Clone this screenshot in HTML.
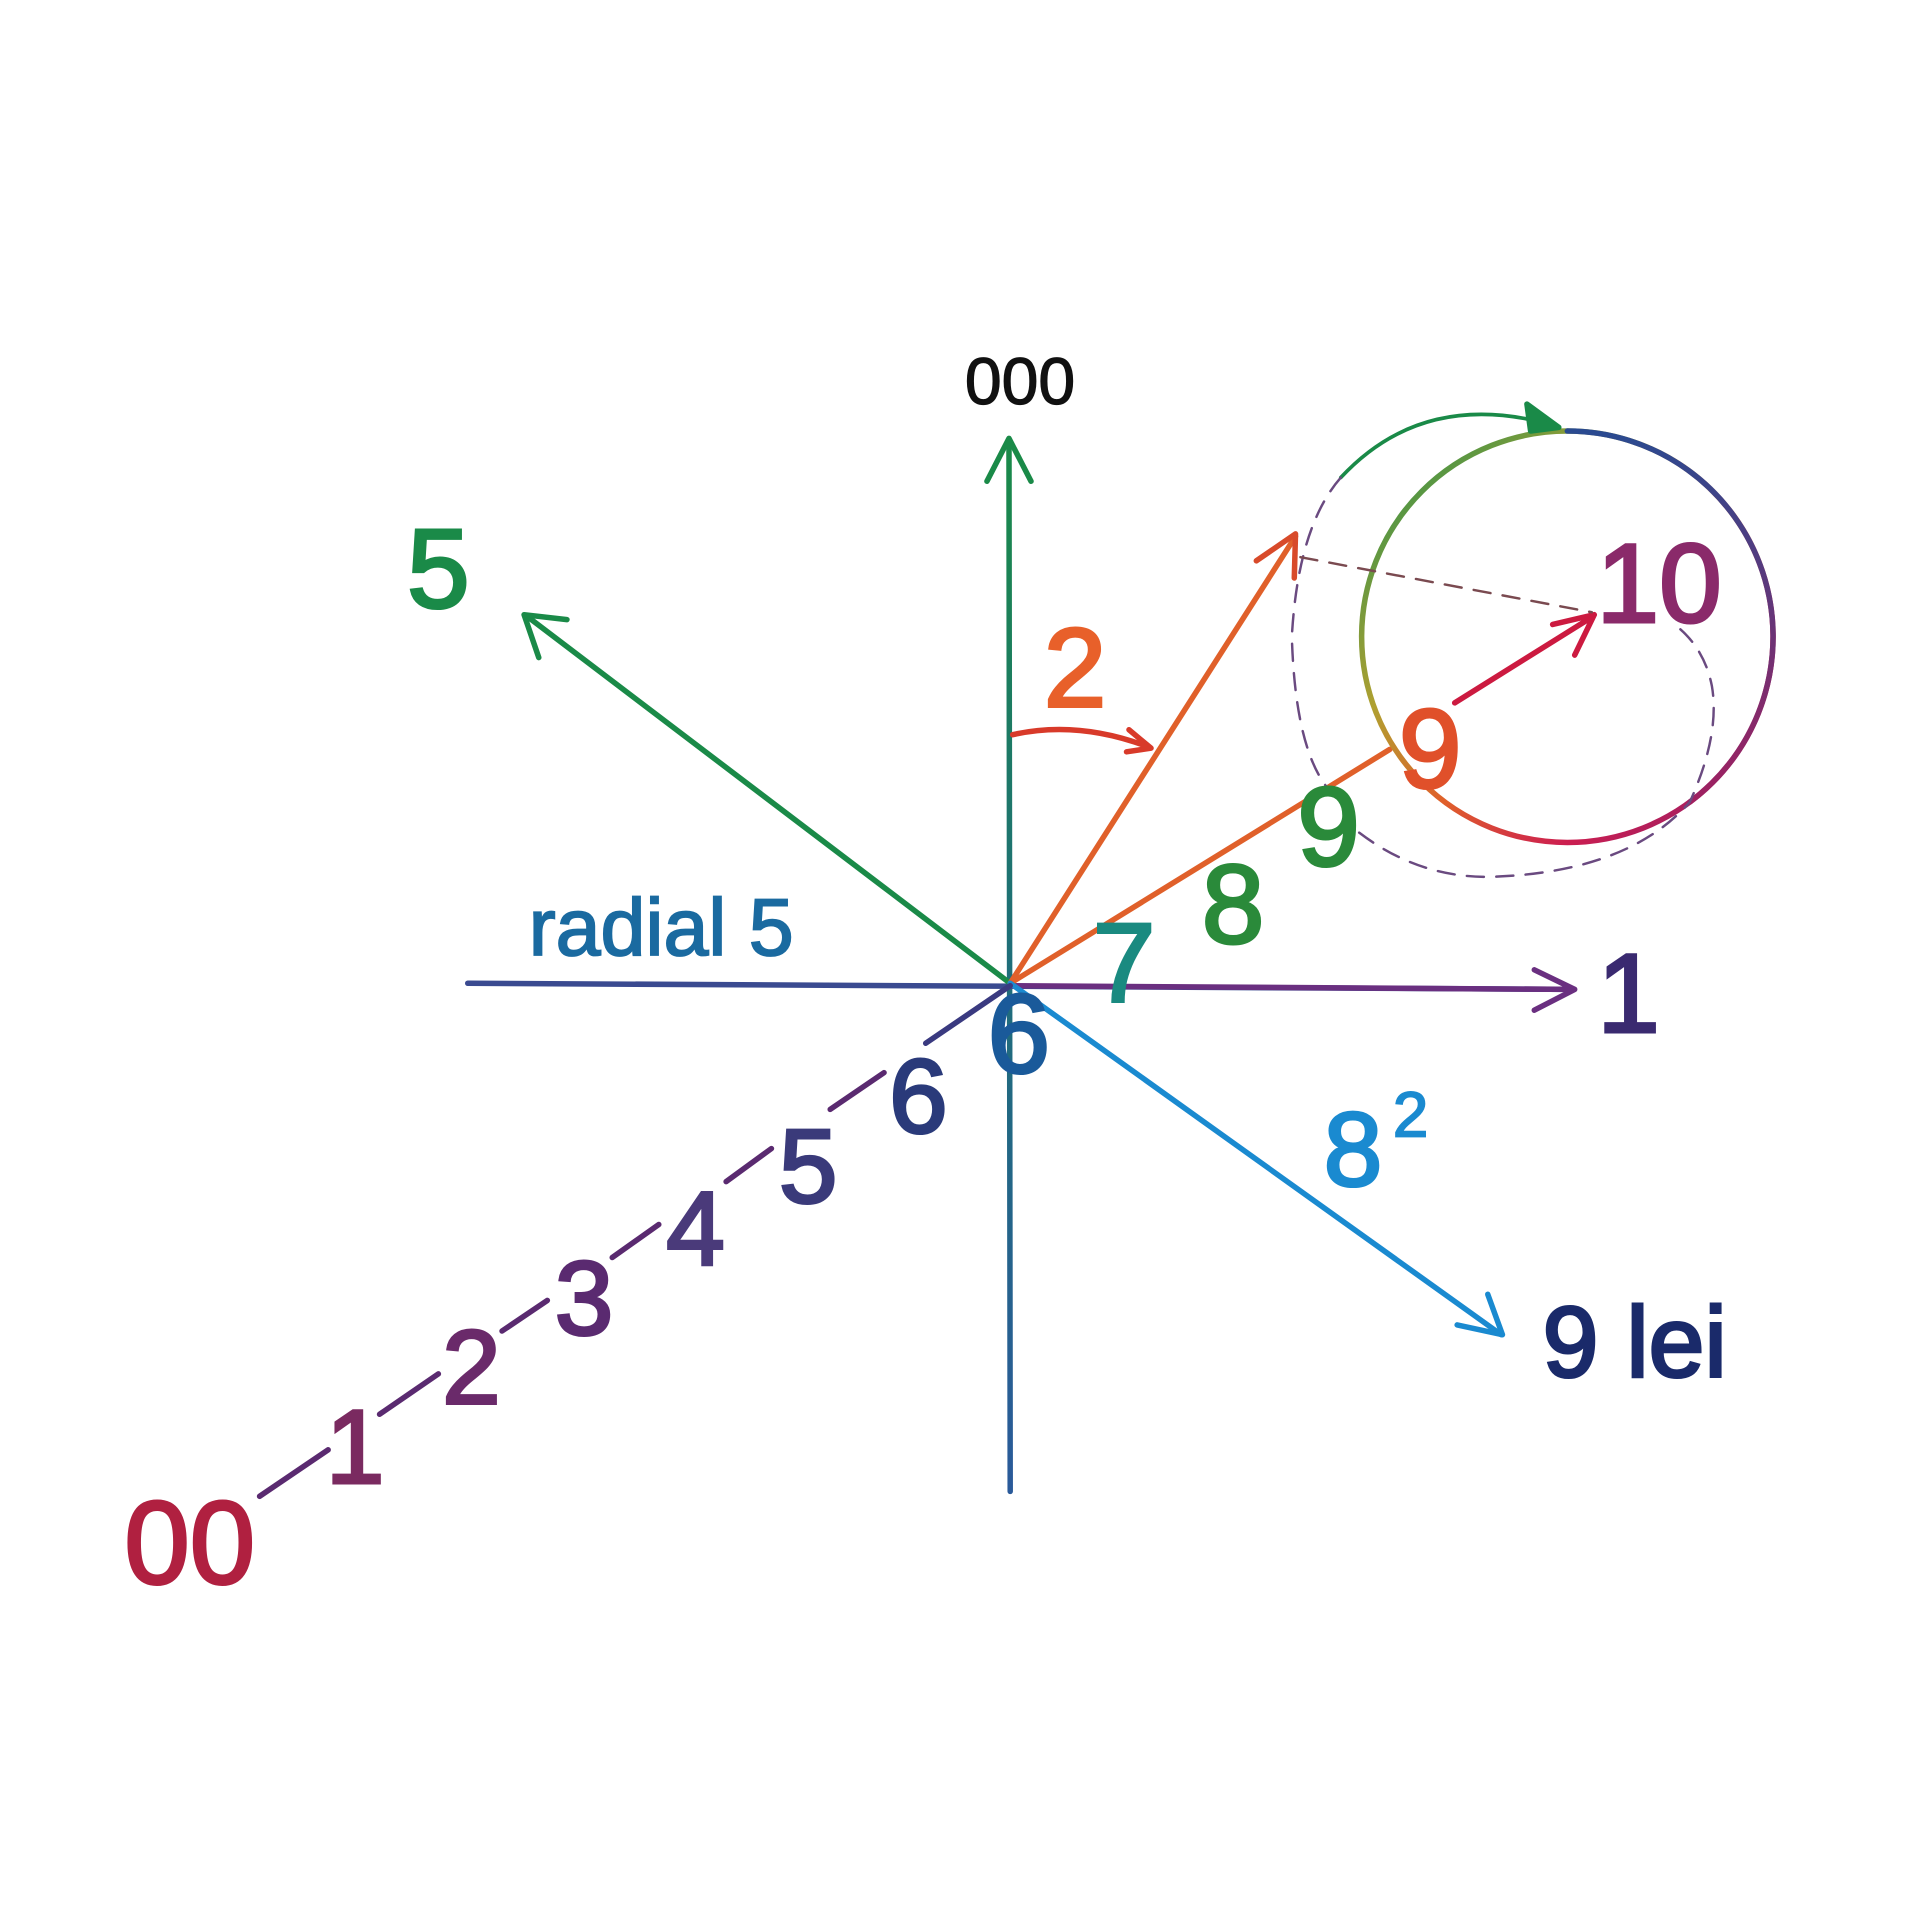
<!DOCTYPE html>
<html><head><meta charset="utf-8"><style>
html,body{margin:0;padding:0;background:#fff;}
svg{display:block;}
text{font-family:"Liberation Sans","DejaVu Sans",sans-serif;}
</style></head><body>
<svg width="1920" height="1920" viewBox="0 0 1568 1568" xmlns="http://www.w3.org/2000/svg">
<defs>
<linearGradient id="vax" x1="0" y1="1" x2="0" y2="0"><stop offset="0" stop-color="#2a5a9a"/><stop offset="0.5" stop-color="#1f6e7a"/><stop offset="1" stop-color="#1a8a48"/></linearGradient>
<linearGradient id="circ" x1="0" y1="0" x2="1" y2="1"><stop offset="0" stop-color="#1a9050"/><stop offset="0.35" stop-color="#b0a030"/><stop offset="0.55" stop-color="#e0602a"/><stop offset="0.75" stop-color="#cc1e50"/><stop offset="1" stop-color="#802070"/></linearGradient>
<linearGradient id="circR" x1="0" y1="0" x2="0" y2="1"><stop offset="0" stop-color="#2a4a90"/><stop offset="1" stop-color="#a02060"/></linearGradient>
</defs>
<g fill="none" stroke-linecap="round" stroke-linejoin="round" stroke-width="4.5">
<line x1="825" y1="1218" x2="824" y2="360" stroke="url(#vax)"/>
<polyline points="806,393 824,358 842,393" stroke="#1a8a48"/>
<line x1="382" y1="803" x2="1285" y2="808" stroke="#3a4a90"/>
<line x1="825" y1="805" x2="1285" y2="808" stroke="#6a2f80"/>
<polyline points="1253,792 1286,808 1253,825" stroke="#6a2f80"/>
<line x1="825" y1="803" x2="430" y2="503" stroke="#1a8a48"/>
<polyline points="440,537 428,502 463,506" stroke="#1a8a48"/>
<line x1="825" y1="803" x2="1058" y2="438" stroke="#e0602a"/>
<polyline points="1026,458 1058,436 1057,472" stroke="#d84a2a"/>
<line x1="825" y1="803" x2="1135" y2="612" stroke="#e0602a"/>
<line x1="1188" y1="574" x2="1300" y2="504" stroke="#cc1a40"/>
<polyline points="1268,510 1302,502 1286,535" stroke="#cc1a40"/>
<line x1="825" y1="803" x2="1226" y2="1090" stroke="#1a8ad0"/>
<polyline points="1190,1082 1227,1090 1215,1057" stroke="#1a8ad0"/>
<path d="M827,600 Q880,588 938,610" stroke="#d83a2a"/>
<polyline points="922,596 940,611 920,614" stroke="#d83a2a"/>
<g stroke="#5a2a70">
<line x1="212" y1="1222" x2="268" y2="1184"/>
<line x1="310" y1="1155" x2="358" y2="1122"/>
<line x1="410" y1="1087" x2="447" y2="1062"/>
<line x1="500" y1="1027" x2="538" y2="1000"/>
<line x1="593" y1="965" x2="630" y2="938"/>
<line x1="678" y1="906" x2="722" y2="876"/>
<line x1="756" y1="852" x2="825" y2="805" stroke="#3a3a80"/>
</g>
<circle cx="1280" cy="520" r="168" stroke="url(#circ)" stroke-width="4.5"/>
<path d="M1280,352 A168,168 0 0 1 1380,655" stroke="url(#circR)" stroke-width="4.5"/>
<path d="M1095,390 Q1160,320 1260,345" stroke="#1a8a48" stroke-width="3"/>
<polygon points="1247,330 1273,349 1250,352" fill="#1a8a48" stroke="#1a8a48"/>
<path d="M1095,390 Q1060,430 1055,520 Q1058,620 1090,650 M1110,680 Q1160,718 1220,716 Q1330,712 1380,655 Q1405,600 1398,560 Q1392,530 1370,512" stroke="#6a4a80" stroke-width="2" stroke-dasharray="14,10"/>
<line x1="1062" y1="455" x2="1300" y2="500" stroke="#7a4a50" stroke-width="2" stroke-dasharray="14,10"/>
</g>
<g stroke-width="2.5">
<text x="833" y="330" font-size="54" text-anchor="middle" fill="#111" stroke="#111" stroke-width="1">000</text>
<text x="358" y="496" font-size="92" text-anchor="middle" fill="#1a8a48" stroke="#1a8a48">5</text>
<text x="878" y="577" font-size="92" text-anchor="middle" fill="#e8602a" stroke="#e8602a">2</text>
<text x="540" y="780" font-size="66" text-anchor="middle" fill="#1a6aa0" stroke="#1a6aa0" stroke-width="1.5">radial 5</text>
<text x="1330" y="843" font-size="92" text-anchor="middle" fill="#3a2a70" stroke="#3a2a70">1</text>
<text x="918" y="818" font-size="92" text-anchor="middle" fill="#1a8a80" stroke="#1a8a80">7</text>
<text x="1007" y="770" font-size="92" text-anchor="middle" fill="#2a8a3a" stroke="#2a8a3a">8</text>
<text x="1085" y="707" font-size="92" text-anchor="middle" fill="#2a8a3a" stroke="#2a8a3a">9</text>
<text x="1168" y="643" font-size="92" text-anchor="middle" fill="#e0502a" stroke="#e0502a">9</text>
<text x="1355" y="508" font-size="92" text-anchor="middle" fill="#8a2a6a" stroke="#8a2a6a">10</text>
<text x="832" y="876" font-size="92" text-anchor="middle" fill="#1a5a9a" stroke="#1a5a9a">6</text>
<text x="750" y="925" font-size="86" text-anchor="middle" fill="#2a3a7a" stroke="#2a3a7a">6</text>
<text x="660" y="982" font-size="86" text-anchor="middle" fill="#3a3a7a" stroke="#3a3a7a">5</text>
<text x="568" y="1033" font-size="86" text-anchor="middle" fill="#4a3a7a" stroke="#4a3a7a">4</text>
<text x="477" y="1090" font-size="86" text-anchor="middle" fill="#5a2a70" stroke="#5a2a70">3</text>
<text x="385" y="1146" font-size="86" text-anchor="middle" fill="#6a2a6a" stroke="#6a2a6a">2</text>
<text x="290" y="1211" font-size="86" text-anchor="middle" fill="#7a2a60" stroke="#7a2a60">1</text>
<text x="155" y="1293" font-size="96" text-anchor="middle" fill="#b02040" stroke="#b02040">00</text>
<text x="1105" y="968" font-size="86" text-anchor="middle" fill="#1a8ad0" stroke="#1a8ad0">8</text>
<text x="1152" y="928" font-size="52" text-anchor="middle" fill="#1a8ad0" stroke="#1a8ad0" stroke-width="1.5">2</text>
<text x="1335" y="1124" font-size="82" text-anchor="middle" fill="#1a2a6a" stroke="#1a2a6a">9 lei</text>
</g>
</svg>
</body></html>
